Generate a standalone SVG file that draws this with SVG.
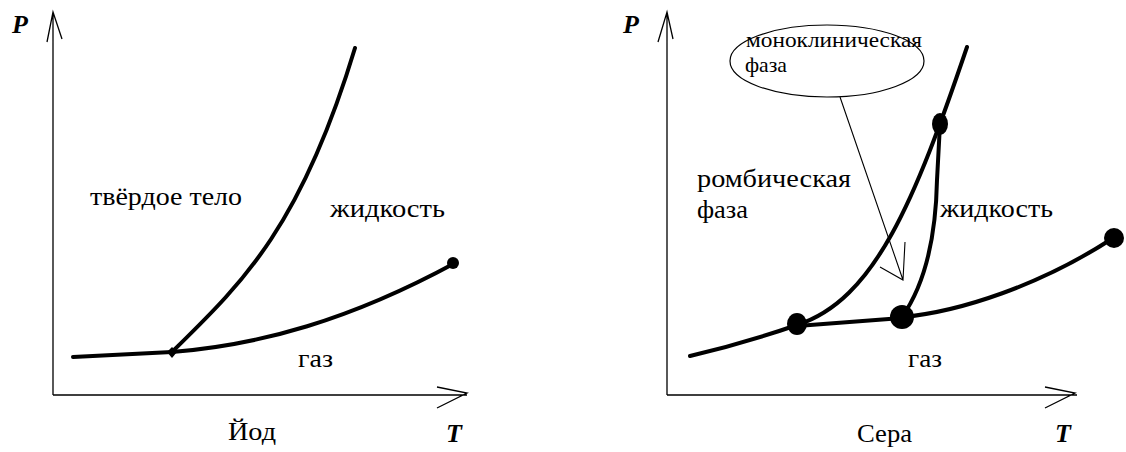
<svg xmlns="http://www.w3.org/2000/svg" width="1126" height="452" viewBox="0 0 1126 452">
<style>
.axis{fill:none;stroke:#000;stroke-width:1.3}
.curve{fill:none;stroke:#000;stroke-width:4;stroke-linecap:round;stroke-linejoin:round}
.thin{fill:none;stroke:#000;stroke-width:1.1}
.lbl{font-family:"Liberation Serif","Times New Roman",serif;font-size:25px;fill:#000}
.small{font-family:"Liberation Serif","Times New Roman",serif;font-size:21px;fill:#000}
.ax{font-family:"Liberation Serif","Times New Roman",serif;font-size:26px;font-weight:bold;font-style:italic;fill:#000}
.dot{fill:#000}
</style>
<rect width="1126" height="452" fill="#fff"/>
<g id="connectors">
  <path class="axis" d="M53,395 L53,12 M47,42 L53,12 L62,39"/>
  <path class="axis" d="M53,395 L467,395 M437,387 L467,393 L437,408"/>
  <path class="curve" d="M73,357 L172,352"/>
  <path class="curve" d="M172,352 C260,345 350,320 455,263"/>
  <path class="curve" d="M172,352 C240,285 300,230 355,48"/>
  <path class="axis" d="M667,395 L667,12 M658,42 L667,12 L673,39"/>
  <path class="axis" d="M667,395 L1077,395 M1045,387 L1075,393 L1045,408"/>
  <path class="curve" d="M690,356 Q745,343 797,325"/>
  <path class="curve" d="M797,326 L902,318"/>
  <path class="curve" d="M902,317 C960,312 1040,285 1110,240"/>
  <path class="curve" d="M797,325 C875,300 915,200 967,47"/>
  <path class="curve" d="M902,317 C928,280 936,230 937,180 L940,124"/>
  <path class="thin" d="M840,97 L903,280 M880,267 L903,280 L905,242"/>
</g>
<g id="node-ellipse">
  <ellipse cx="827" cy="61" rx="97" ry="36" fill="none" stroke="#000" stroke-width="1.2"/>
  <text class="small" x="746" y="47" textLength="176" lengthAdjust="spacingAndGlyphs">моноклиническая</text>
  <text class="small" x="745" y="72" textLength="42" lengthAdjust="spacingAndGlyphs">фаза</text>
</g>
<g id="node-points">
  <path class="dot" d="M172,347 L177,352 L172,358 L167,352 Z"/>
  <circle class="dot" cx="453" cy="263" r="6"/>
  <ellipse class="dot" cx="797" cy="324" rx="10" ry="11"/>
  <circle class="dot" cx="902" cy="317" r="12"/>
  <ellipse class="dot" cx="940" cy="124" rx="8" ry="11"/>
  <circle class="dot" cx="1114" cy="238" r="10"/>
</g>
<g id="node-labels-left">
  <text class="ax" x="12" y="33">P</text>
  <text class="ax" x="446" y="442">T</text>
  <text class="lbl" x="228" y="440" textLength="48" lengthAdjust="spacingAndGlyphs">Йод</text>
  <text class="lbl" x="90" y="205" textLength="152" lengthAdjust="spacingAndGlyphs">твёрдое тело</text>
  <text class="lbl" x="330" y="217" textLength="115" lengthAdjust="spacingAndGlyphs">жидкость</text>
  <text class="lbl" x="298" y="367" textLength="35" lengthAdjust="spacingAndGlyphs">газ</text>
</g>
<g id="node-labels-right">
  <text class="ax" x="623" y="33">P</text>
  <text class="ax" x="1055" y="442">T</text>
  <text class="lbl" x="857" y="442" textLength="55" lengthAdjust="spacingAndGlyphs">Сера</text>
  <text class="lbl" x="697" y="187" textLength="154" lengthAdjust="spacingAndGlyphs">ромбическая</text>
  <text class="lbl" x="697" y="218" textLength="51" lengthAdjust="spacingAndGlyphs">фаза</text>
  <text class="lbl" x="940" y="217" textLength="113" lengthAdjust="spacingAndGlyphs">жидкость</text>
  <text class="lbl" x="908" y="367" textLength="34" lengthAdjust="spacingAndGlyphs">газ</text>
</g>
</svg>
